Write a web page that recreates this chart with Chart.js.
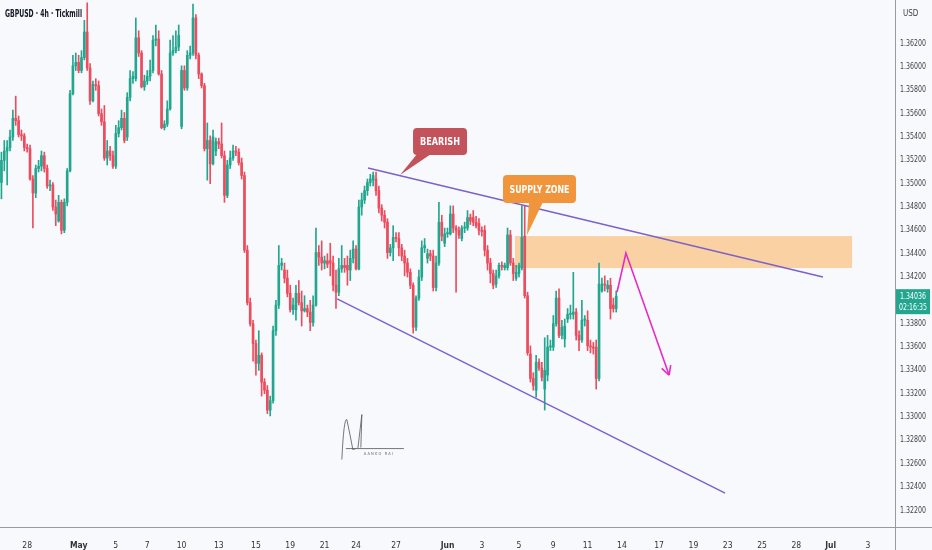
<!DOCTYPE html>
<html lang="en">
<head>
<meta charset="UTF-8">
<title>GBPUSD 4h</title>
<script src="https://cdn.jsdelivr.net/npm/chart.js"></script>
<style>
    html, body { margin: 0; padding: 0; background: #f8f9fd; }
    .wrap { position: relative; width: 932px; height: 550px; }
</style>
</head>
<body>
<div class="wrap"><canvas id="chart" width="932" height="550"></canvas></div>
<script>
// 4h candles
const opens = [1.3501,1.3520,1.3528,1.3531,1.3540,1.3556,1.3554,1.3542,1.3541,1.3531,
1.3530,1.3504,1.3492,1.3513,1.3515,1.3524,1.3513,1.3498,1.3499,1.3480,
1.3468,1.3484,1.3460,1.3484,1.3511,1.3577,1.3601,1.3604,1.3597,1.3608,
1.3630,1.3599,1.3571,1.3585,1.3584,1.3560,1.3553,1.3522,1.3528,1.3524,
1.3515,1.3543,1.3548,1.3556,1.3540,1.3574,1.3590,
1.3590,1.3625,1.3612,1.3583,
1.3588,1.3592,1.3597,1.3623,1.3624,1.3594,1.3548,1.3551,1.3564,1.3612,
1.3614,1.3617,1.3549,1.3597,1.3582,1.3610,1.3612,1.3642,1.3610,1.3594,
1.3584,1.3530,1.3537,1.3517,1.3528,1.3536,1.3534,1.3524,1.3490,1.3516,
1.3522,1.3528,1.3527,1.3518,1.3507,1.3443,1.3398,1.3380,1.3363,1.3346,
1.3353,1.3330,1.3323,1.3306,1.3314,1.3374,1.3396,1.3430,1.3426,1.3419,
1.3406,1.3392,
1.3392,1.3406,1.3398,1.3391,1.3393,1.3390,1.3381,1.3396,1.3441,
1.3437,1.3432,1.3434,
1.3434,1.3432,1.3413,1.3407,1.3427,1.3430,
1.3430,1.3426,1.3436,
1.3444,1.3427,1.3480,1.3486,1.3494,1.3501,1.3503,1.3504,1.3494,1.3479,
1.3473,1.3467,1.3441,1.3445,1.3454,1.3453,1.3445,1.3438,1.3432,1.3424,
1.3413,1.3377,1.3402,1.3420,1.3445,1.3436,1.3440,1.3438,1.3411,1.3432,
1.3467,1.3449,1.3457,1.3457,1.3474,1.3462,1.3460,1.3453,1.3462,1.3462,
1.3471,
1.3471,1.3467,1.3466,1.3460,1.3460,1.3443,1.3432,1.3423,1.3414,1.3421,
1.3430,
1.3428,1.3428,1.3456,1.3432,1.3419,1.3423,1.3428,1.3455,1.3404,1.3354,
1.3333,1.3323,1.3347,1.3342,1.3324,
1.3336,1.3360,1.3360,1.3380,1.3402,1.3370,1.3367,
1.3384,1.3388,
1.3388,1.3390,1.3370,1.3366,1.3383,1.3383,1.3361,1.3360,1.3360,1.3333,
1.3408,1.3414,1.3410,1.3413,1.3396,1.3393];

const highs = [1.3527,1.3537,1.3537,1.3546,1.3563,1.3575,1.3558,1.3546,1.3543,1.3534,
1.3533,1.3507,1.3516,1.3520,1.3528,1.3527,1.3516,1.3503,1.3501,1.3486,
1.3490,1.3486,1.3487,1.3513,1.3580,1.3610,1.3612,1.3610,1.3614,1.3640,
1.3655,1.3603,1.3588,1.3590,1.3588,1.3564,1.3567,1.3537,1.3532,1.3528,
1.3550,1.3554,1.3563,1.3561,1.3578,1.3597,1.3596,
1.3642,1.3631,1.3614,1.3593,
1.3597,1.3606,1.3627,1.3636,1.3631,1.3597,1.3554,1.3571,1.3623,1.3627,
1.3631,1.3636,1.3601,1.3601,1.3614,1.3618,1.3654,1.3645,1.3612,1.3595,
1.3586,1.3552,1.3541,1.3546,1.3539,1.3539,1.3552,1.3528,1.3520,1.3528,
1.3533,1.3532,1.3530,1.3522,1.3510,1.3447,1.3402,1.3383,1.3366,1.3374,
1.3355,1.3333,1.3327,1.3318,1.3378,1.3400,1.3447,1.3436,1.3432,1.3426,
1.3413,1.3402,
1.3413,1.3417,1.3408,1.3404,1.3396,1.3400,1.3404,1.3462,1.3447,
1.3451,1.3438,1.3440,
1.3449,1.3438,1.3426,1.3436,1.3447,1.3436,
1.3438,1.3443,1.3451,
1.3447,1.3486,1.3492,1.3498,1.3504,1.3508,1.3510,1.3510,1.3498,1.3482,
1.3477,1.3470,1.3448,1.3464,1.3458,1.3458,1.3448,1.3443,1.3436,1.3427,
1.3415,1.3404,1.3426,1.3451,1.3453,1.3444,1.3443,1.3443,1.3438,1.3484,
1.3473,1.3462,1.3462,1.3481,1.3481,1.3464,1.3463,1.3464,1.3467,1.3477,
1.3474,
1.3477,1.3472,1.3470,1.3463,1.3464,1.3447,1.3436,1.3426,1.3426,1.3432,
1.3433,
1.3432,1.3462,1.3460,1.3436,1.3430,1.3432,1.3481,1.3481,1.3407,1.3361,
1.3338,1.3353,1.3350,1.3347,1.3368,
1.3370,1.3366,1.3387,1.3408,1.3410,1.3383,1.3384,
1.3393,1.3396,
1.3424,1.3393,1.3374,1.3400,1.3387,1.3391,1.3366,1.3364,1.3366,1.3432,
1.3419,1.3421,1.3417,1.3419,1.3402,1.3408];

const lows = [1.3487,1.3511,1.3499,1.3528,1.3537,1.3550,1.3540,1.3537,1.3528,1.3527,
1.3503,1.3462,1.3488,1.3510,1.3511,1.3510,1.3496,1.3494,1.3477,1.3464,
1.3467,1.3457,1.3458,1.3481,1.3510,1.3576,1.3597,1.3595,1.3595,1.3606,
1.3597,1.3568,1.3570,1.3580,1.3558,1.3550,1.3520,1.3516,1.3520,1.3513,
1.3513,1.3540,1.3546,1.3535,1.3537,1.3571,1.3586,
1.3588,1.3609,1.3582,1.3580,
1.3585,1.3588,1.3595,1.3618,1.3593,1.3547,1.3546,1.3549,1.3563,1.3610,
1.3612,1.3614,1.3547,1.3580,1.3580,1.3607,1.3610,1.3607,1.3590,1.3582,
1.3528,1.3503,1.3500,1.3516,1.3524,1.3530,1.3522,1.3484,1.3488,1.3513,
1.3520,1.3524,1.3516,1.3504,1.3441,1.3396,1.3378,1.3348,1.3336,1.3340,
1.3318,1.3320,1.3303,1.3301,1.3312,1.3370,1.3393,1.3426,1.3415,1.3403,
1.3390,1.3388,
1.3383,1.3396,1.3378,1.3390,1.3386,1.3374,1.3378,1.3395,1.3430,
1.3426,1.3427,1.3428,
1.3421,1.3408,1.3393,1.3404,1.3424,1.3424,
1.3413,1.3417,1.3432,
1.3426,1.3426,1.3473,1.3483,1.3490,1.3498,1.3498,1.3490,1.3475,1.3468,
1.3462,1.3436,1.3438,1.3434,1.3450,1.3438,1.3434,1.3421,1.3420,1.3410,
1.3372,1.3374,1.3400,1.3417,1.3441,1.3432,1.3434,1.3408,1.3408,1.3430,
1.3451,1.3446,1.3454,1.3456,1.3458,1.3407,1.3453,1.3451,1.3458,1.3460,
1.3465,
1.3464,1.3462,1.3456,1.3455,1.3438,1.3426,1.3415,1.3410,1.3411,1.3419,
1.3426,
1.3426,1.3426,1.3430,1.3417,1.3417,1.3420,1.3426,1.3402,1.3353,1.3330,
1.3323,1.3317,1.3340,1.3331,1.3306,
1.3331,1.3357,1.3357,1.3378,1.3368,1.3367,1.3360,
1.3381,1.3384,
1.3384,1.3366,1.3357,1.3364,1.3378,1.3357,1.3355,1.3354,1.3324,1.3331,
1.3407,1.3408,1.3407,1.3384,1.3390,1.3390];

const closes = [1.3520,1.3528,1.3531,1.3540,1.3556,1.3554,1.3542,1.3541,1.3531,1.3530,
1.3504,1.3492,1.3513,1.3515,1.3524,1.3513,1.3498,1.3499,1.3480,1.3474,
1.3484,1.3460,1.3484,1.3511,1.3577,1.3601,1.3604,1.3597,1.3608,1.3630,
1.3599,1.3571,1.3585,1.3584,1.3560,1.3553,1.3522,1.3528,1.3524,1.3515,
1.3543,1.3548,1.3556,1.3537,1.3574,1.3590,1.3592,
1.3625,1.3612,1.3583,1.3588,
1.3592,1.3597,1.3623,1.3624,1.3594,1.3548,1.3551,1.3564,1.3612,1.3614,
1.3617,1.3627,1.3597,1.3582,1.3610,1.3612,1.3642,1.3610,1.3594,1.3584,
1.3530,1.3537,1.3517,1.3540,1.3536,1.3534,1.3524,1.3490,1.3516,1.3522,
1.3528,1.3527,1.3518,1.3507,1.3443,1.3398,1.3380,1.3363,1.3346,1.3353,
1.3330,1.3323,1.3306,1.3314,1.3374,1.3396,1.3430,1.3432,1.3419,1.3406,
1.3392,1.3396,
1.3406,1.3398,1.3391,1.3393,1.3390,1.3381,1.3396,1.3441,1.3437,
1.3432,1.3434,1.3431,
1.3432,1.3413,1.3407,1.3427,1.3430,1.3428,
1.3426,1.3436,1.3444,
1.3427,1.3480,1.3486,1.3494,1.3501,1.3504,1.3507,1.3494,1.3479,1.3473,
1.3467,1.3441,1.3445,1.3454,1.3453,1.3445,1.3438,1.3432,1.3424,1.3413,
1.3377,1.3402,1.3420,1.3445,1.3447,1.3440,1.3438,1.3411,1.3432,1.3467,
1.3455,1.3457,1.3458,1.3474,1.3462,1.3460,1.3456,1.3462,1.3462,1.3471,
1.3468,
1.3467,1.3464,1.3460,1.3459,1.3443,1.3432,1.3423,1.3413,1.3421,1.3430,
1.3429,
1.3430,1.3456,1.3432,1.3423,1.3424,1.3430,1.3454,1.3404,1.3355,1.3333,
1.3327,1.3347,1.3342,1.3334,1.3340,
1.3360,1.3361,1.3380,1.3402,1.3370,1.3377,1.3378,
1.3388,1.3389,
1.3390,1.3370,1.3366,1.3383,1.3384,1.3361,1.3360,1.3359,1.3333,1.3414,
1.3414,1.3413,1.3413,1.3393,1.3393,1.34036];

// time axis: candle slots incl. the empty future part, and the date ticks
const slotCount = 313;
const tickSlots = [9, 27, 40, 51, 63, 76, 89, 101, 113, 124, 138, 156, 168, 181, 193, 205, 217, 230, 242, 254, 266, 278, 290, 303];
const tickText = ['28', 'May', '5', '7', '10', '13', '15', '19', '21', '24', '27', 'Jun', '3', '5', '9', '11', '14', '17', '19', '23', '25', '28', 'Jul', '3'];
const priceTicks = [1.362, 1.360, 1.358, 1.356, 1.354, 1.352, 1.350, 1.348, 1.346, 1.344, 1.342, 1.340, 1.338, 1.336, 1.334, 1.332, 1.330, 1.328, 1.326, 1.324, 1.322];

// drawings on the chart, in [slot, price]
const upperLine = [[128.2, 1.35134], [287.3, 1.34200]];
const lowerLine = [[117.4, 1.34012], [253.1, 1.32349]];
const zone = { from: 179.6, to: 297.5, top: 1.34551, bottom: 1.34277 };
const forecast = [[215.3, 1.34072], [218.4, 1.34406], [233.5, 1.33360]];
const bearishTip = [139.4, 1.35074];
const supplyTip = [183.8, 1.34560];
const signAt = [119.4, 1.3303];

const UP = '#22a68f';
const DOWN = '#ec4d5e';
const FONT = "'Liberation Sans Narrow', 'DejaVu Sans Condensed', sans-serif";

const slots = Array.from({ length: slotCount }, (_, i) => i);
const colors = closes.map((c, i) => c >= opens[i] ? UP : DOWN);

function toPx(chart, p) {
    return { x: chart.scales.x.getPixelForValue(p[0]), y: chart.scales.y.getPixelForValue(p[1]) };
}

function callout(ctx, tip, box, base, color, text, maxW) {
    ctx.fillStyle = color;
    ctx.beginPath();
    ctx.roundRect(box.x, box.y, box.w, box.h, 4);
    ctx.fill();
    ctx.beginPath();
    ctx.moveTo(base[0], box.y + box.h - 1);
    ctx.lineTo(tip.x, tip.y);
    ctx.lineTo(base[1], box.y + box.h - 1);
    ctx.closePath();
    ctx.fill();
    ctx.fillStyle = '#ffffff';
    ctx.font = "bold 10px " + FONT;
    ctx.textAlign = 'center';
    ctx.textBaseline = 'middle';
    ctx.fillText(text, box.x + box.w / 2, box.y + box.h / 2 + 1, maxW);
}

const overlay = {
    id: 'overlay',
    beforeDatasetsDraw(chart) {
        const ctx = chart.ctx;
        const a = toPx(chart, [zone.from, zone.top]);
        const b = toPx(chart, [zone.to, zone.bottom]);
        ctx.save();
        ctx.fillStyle = 'rgba(251, 184, 108, 0.62)';
        ctx.fillRect(a.x, a.y, b.x - a.x, b.y - a.y);
        ctx.restore();
    },
    afterDatasetsDraw(chart) {
        const ctx = chart.ctx;
        ctx.save();
        // channel lines
        ctx.strokeStyle = '#7c61c9';
        ctx.lineWidth = 1.4;
        [upperLine, lowerLine].forEach(line => {
            const p0 = toPx(chart, line[0]), p1 = toPx(chart, line[1]);
            ctx.beginPath();
            ctx.moveTo(p0.x, p0.y);
            ctx.lineTo(p1.x, p1.y);
            ctx.stroke();
        });

        // projected path
        const pts = forecast.map(p => toPx(chart, p));
        ctx.strokeStyle = '#e62ac4';
        ctx.lineWidth = 1.6;
        ctx.beginPath();
        pts.forEach((p, i) => i ? ctx.lineTo(p.x, p.y) : ctx.moveTo(p.x, p.y));
        ctx.stroke();
        const tip = pts[2], prev = pts[1];
        const ang = Math.atan2(tip.y - prev.y, tip.x - prev.x);
        ctx.beginPath();
        [-0.5, 0.5].forEach(d => {
            ctx.moveTo(tip.x, tip.y);
            ctx.lineTo(tip.x - 10 * Math.cos(ang + d), tip.y - 10 * Math.sin(ang + d));
        });
        ctx.stroke();

        // callouts
        const bt = toPx(chart, bearishTip);
        callout(ctx, bt, { x: bt.x + 13, y: bt.y - 47, w: 54, h: 27 }, [bt.x + 17, bt.x + 31], '#c4525b', 'BEARISH', 40);
        const st = toPx(chart, supplyTip);
        callout(ctx, st, { x: st.x - 24, y: st.y - 60, w: 73, h: 28 }, [st.x + 2, st.x + 16], '#f0953b', 'SUPPLY ZONE', 60);

        // signature
        const s = toPx(chart, signAt);
        ctx.strokeStyle = '#555';
        ctx.lineWidth = 0.8;
        ctx.beginPath();
        ctx.moveTo(s.x - 1, s.y + 46);
        ctx.quadraticCurveTo(s.x + 1, s.y + 4, s.x + 4, s.y + 6);
        ctx.quadraticCurveTo(s.x + 7, s.y + 20, s.x + 10, s.y + 36);
        ctx.lineTo(s.x + 13, s.y + 35);
        ctx.moveTo(s.x + 15, s.y + 35);
        ctx.lineTo(s.x + 19, s.y + 1);
        ctx.lineTo(s.x + 18, s.y + 34);
        ctx.moveTo(s.x + 3, s.y + 35);
        ctx.lineTo(s.x + 61, s.y + 35);
        ctx.stroke();
        ctx.fillStyle = '#666';
        ctx.font = "4px " + FONT;
        ctx.textAlign = 'left';
        ctx.textBaseline = 'middle';
        ctx.fillText('A A N K O   R A I', s.x + 21, s.y + 40);
        ctx.restore();
    },
    afterDraw(chart) {
        const ctx = chart.ctx;
        const area = chart.chartArea;
        const yScale = chart.scales.y;
        ctx.save();
        ctx.strokeStyle = '#9a9a9a';
        ctx.lineWidth = 1;
        ctx.beginPath();
        ctx.moveTo(Math.round(area.right) + 0.5, 0);
        ctx.lineTo(Math.round(area.right) + 0.5, chart.height);
        ctx.moveTo(0, Math.round(area.bottom) + 0.5);
        ctx.lineTo(chart.width, Math.round(area.bottom) + 0.5);
        ctx.stroke();

        // price scale labels, squeezed to the narrow axis like the original
        ctx.fillStyle = '#444';
        ctx.font = "8px " + FONT;
        ctx.textAlign = 'left';
        ctx.textBaseline = 'middle';
        yScale.ticks.forEach(t => {
            ctx.fillText(t.value.toFixed(5), area.right + 5, yScale.getPixelForValue(t.value), 26);
        });
        ctx.fillText('USD', area.right + 8, 14);

        // last price tag
        const last = closes[closes.length - 1];
        const y = yScale.getPixelForValue(last);
        ctx.fillStyle = UP;
        ctx.fillRect(area.right + 1, y - 7, chart.width - area.right - 3, 25);
        ctx.fillStyle = '#ffffff';
        ctx.fillText(last.toFixed(5), area.right + 5, y + 0.5, 26);
        ctx.fillText('02:16:35', area.right + 4, y + 11.5, 28);

        ctx.fillStyle = '#131722';
        ctx.font = "bold 10px " + FONT;
        ctx.fillText('GBPUSD · 4h · Tickmill', 5, 14, 77);
        ctx.restore();
    }
};

new Chart(document.getElementById('chart'), {
    type: 'bar',
    data: {
        labels: slots,
        datasets: [{
            label: 'wicks',
            data: lows.map((l, i) => [l, highs[i]]),
            backgroundColor: colors,
            barThickness: 1,
            grouped: false,
            order: 2
        }, {
            label: 'bodies',
            data: opens.map((o, i) => [o, closes[i]]),
            backgroundColor: colors,
            barThickness: 2,
            minBarLength: 1,
            grouped: false,
            order: 1
        }]
    },
    options: {
        responsive: false,
        animation: false,
        layout: { padding: 0 },
        plugins: { legend: { display: false }, tooltip: { enabled: false } },
        scales: {
            x: {
                grid: { display: false },
                border: { display: false },
                afterBuildTicks: s => { s.ticks = tickSlots.map(v => ({ value: v })); },
                afterFit: s => { s.height = 23; },
                ticks: {
                    autoSkip: false,
                    maxRotation: 0,
                    padding: 6,
                    color: '#333',
                    font: c => ({ family: FONT, size: 8.5, weight: ['May', 'Jun', 'Jul'].includes(tickText[c.index]) ? 'bold' : 'normal' }),
                    callback: v => tickText[tickSlots.indexOf(v)]
                }
            },
            y: {
                position: 'right',
                min: 1.32058,
                max: 1.36574,
                grid: { display: false },
                border: { display: false },
                afterBuildTicks: s => { s.ticks = priceTicks.map(v => ({ value: v })); },
                afterFit: s => { s.width = 37; },
                ticks: { display: false }
            }
        }
    },
    plugins: [overlay]
});
</script>
</body>
</html>
